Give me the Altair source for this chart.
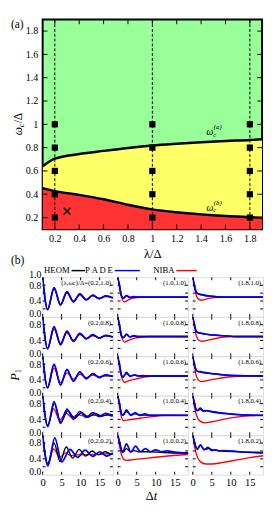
import altair as alt
import pandas as pd

SERIF = "Liberation Serif"

# ---------------- panel (a): phase diagram ----------------
lam_grid = [0.1, 0.2, 0.4, 0.6, 0.8, 1.0, 1.2, 1.4, 1.6, 1.8, 1.9]
wc_upper = [0.64, 0.705, 0.745, 0.772, 0.797, 0.818, 0.833, 0.846, 0.857, 0.866, 0.872]
wc_lower = [0.453, 0.427, 0.395, 0.357, 0.31, 0.27, 0.245, 0.227, 0.213, 0.203, 0.199]
ticks_a = [0.2, 0.4, 0.6, 0.8, 1.0, 1.2, 1.4, 1.6, 1.8]
sample_lam = [0.2, 1.0, 1.8]
sample_wc = [0.2, 0.4, 0.6, 0.8, 1.0]
cross_lam = [0.3]
cross_wc = [0.255]
bound_label_lam = [1.5, 1.5]
bound_label_wc = [0.935, 0.285]
bound_label_tag = ["(a)", "(b)"]

# ---------------- panel (b): dynamics ----------------
panel_lam = [0.2, 1.0, 1.8]
panel_wc = [1.0, 0.8, 0.6, 0.4, 0.2]
t_ticks = [0, 5, 10, 15]
p_ticks = [0.2, 0.4, 0.6, 0.8]
method_names = ["HEOM", "PADE", "NIBA"]
legend_texts = ["HEOM", "P\u2009A\u2009D\u2009E", "NIBA"]

# (t, P1) key points, lambda = 0.2
heom_02_10 = [(0,1.0),(1.3,0.18),(3.0,0.73),(4.7,0.30),(6.4,0.63),(8.1,0.38),(9.8,0.58),(11.5,0.43),(13.2,0.55),(14.9,0.46),(16.6,0.53),(18.5,0.48)]
pade_02_10 = [(0,1.0),(1.3,0.18),(3.0,0.74),(4.7,0.30),(6.4,0.64),(8.1,0.38),(9.8,0.58),(11.5,0.43),(13.2,0.55),(14.9,0.46),(16.6,0.53),(18.5,0.48)]
niba_02_10 = [(0,1.0),(1.3,0.19),(3.0,0.70),(4.7,0.32),(6.4,0.60),(8.1,0.40),(9.8,0.55),(11.5,0.44),(13.2,0.53),(14.9,0.47),(16.6,0.51),(18.5,0.49)]
heom_02_08 = [(0,1.0),(1.3,0.19),(3.0,0.74),(4.7,0.30),(6.4,0.63),(8.1,0.38),(9.8,0.58),(11.5,0.44),(13.2,0.55),(14.9,0.46),(16.6,0.53),(18.5,0.49)]
pade_02_08 = [(0,1.0),(1.3,0.19),(3.0,0.75),(4.7,0.29),(6.4,0.64),(8.1,0.38),(9.8,0.58),(11.5,0.44),(13.2,0.55),(14.9,0.46),(16.6,0.53),(18.5,0.49)]
niba_02_08 = [(0,1.0),(1.3,0.20),(3.0,0.68),(4.7,0.33),(6.4,0.59),(8.1,0.41),(9.8,0.55),(11.5,0.45),(13.2,0.52),(14.9,0.47),(16.6,0.51),(18.5,0.49)]
heom_02_06 = [(0,1.0),(1.3,0.20),(3.0,0.78),(4.7,0.28),(6.4,0.66),(8.1,0.37),(9.8,0.60),(11.5,0.43),(13.2,0.56),(14.9,0.46),(16.6,0.53),(18.5,0.49)]
pade_02_06 = [(0,1.0),(1.3,0.20),(3.0,0.80),(4.7,0.27),(6.4,0.67),(8.1,0.37),(9.8,0.60),(11.5,0.43),(13.2,0.56),(14.9,0.46),(16.6,0.53),(18.5,0.49)]
niba_02_06 = [(0,1.0),(1.3,0.21),(3.0,0.70),(4.7,0.33),(6.4,0.58),(8.1,0.42),(9.8,0.54),(11.5,0.46),(13.2,0.52),(14.9,0.48),(16.6,0.50),(18.5,0.50)]
heom_02_04 = [(0,1.0),(1.35,0.24),(3.05,0.80),(4.8,0.33),(6.6,0.62),(8.4,0.43),(10.2,0.57),(12.0,0.46),(13.8,0.55),(15.6,0.48),(17.4,0.53),(18.5,0.51)]
pade_02_04 = [(0,1.0),(1.35,0.22),(3.0,0.85),(4.7,0.30),(6.4,0.66),(8.1,0.40),(9.8,0.60),(11.5,0.45),(13.2,0.57),(14.9,0.47),(16.6,0.55),(18.3,0.49),(18.5,0.49)]
niba_02_04 = [(0,1.0),(1.3,0.25),(2.9,0.67),(4.5,0.38),(6.1,0.56),(7.7,0.45),(9.3,0.52),(11.0,0.48),(13.0,0.50),(18.5,0.50)]
heom_02_02 = [(0,1.0),(1.35,0.28),(3.0,0.80),(4.6,0.33),(6.2,0.70),(7.9,0.42),(9.6,0.64),(11.3,0.47),(13.0,0.60),(14.7,0.50),(16.4,0.58),(18.1,0.52),(18.5,0.53)]
pade_02_02 = [(0,1.0),(1.4,0.22),(3.2,0.93),(5.0,0.32),(7.2,0.64),(9.2,0.44),(11.2,0.62),(13.2,0.46),(15.0,0.58),(16.8,0.47),(18.5,0.55)]
niba_02_02 = [(0,1.0),(1.3,0.25),(2.9,0.65),(4.5,0.44),(6.0,0.55),(7.5,0.48),(9.0,0.50),(13.0,0.51),(18.5,0.53)]

# lambda = 1.0
heom_10_10 = [(0,1.0),(0.5,0.77),(1.0,0.53),(1.5,0.47),(2.3,0.53),(3.2,0.49),(4.2,0.505),(5.5,0.5),(18.5,0.5)]
pade_10_10 = [(0,1.0),(0.5,0.77),(1.0,0.53),(1.5,0.47),(2.3,0.54),(3.2,0.49),(4.2,0.51),(5.5,0.5),(18.5,0.5)]
niba_10_10 = [(0,1.0),(0.5,0.75),(1.0,0.50),(1.7,0.38),(2.5,0.41),(3.5,0.46),(5.0,0.49),(7.0,0.5),(18.5,0.5)]
heom_10_08 = [(0,1.0),(0.5,0.77),(1.0,0.52),(1.5,0.47),(2.3,0.55),(3.2,0.49),(4.2,0.51),(5.5,0.5),(18.5,0.5)]
pade_10_08 = [(0,1.0),(0.5,0.77),(1.0,0.52),(1.5,0.47),(2.3,0.56),(3.2,0.49),(4.2,0.52),(5.3,0.5),(18.5,0.5)]
niba_10_08 = [(0,1.0),(0.5,0.75),(1.0,0.49),(1.8,0.36),(3.0,0.41),(4.5,0.46),(6.0,0.48),(8.0,0.5),(18.5,0.5)]
heom_10_06 = [(0,1.0),(0.5,0.77),(1.0,0.52),(1.4,0.48),(2.3,0.56),(3.3,0.5),(4.4,0.52),(5.5,0.5),(18.5,0.5)]
pade_10_06 = [(0,1.0),(0.5,0.77),(1.0,0.52),(1.4,0.47),(2.3,0.59),(3.3,0.49),(4.4,0.53),(5.5,0.5),(6.6,0.51),(8.0,0.5),(18.5,0.5)]
niba_10_06 = [(0,1.0),(0.5,0.74),(1.0,0.48),(1.8,0.34),(3.0,0.38),(5.0,0.43),(7.0,0.47),(10.0,0.5),(18.5,0.5)]
heom_10_04 = [(0,1.0),(0.5,0.78),(1.0,0.54),(1.4,0.52),(2.3,0.60),(3.4,0.52),(4.6,0.54),(6.0,0.51),(18.5,0.5)]
pade_10_04 = [(0,1.0),(0.5,0.78),(1.0,0.54),(1.4,0.5),(2.3,0.64),(3.4,0.5),(4.6,0.57),(5.8,0.5),(7.2,0.54),(8.5,0.5),(18.5,0.5)]
niba_10_04 = [(0,1.0),(0.5,0.72),(1.0,0.45),(1.5,0.37),(3.0,0.39),(6.0,0.43),(9.0,0.47),(12.0,0.5),(18.5,0.5)]
heom_10_02 = [(0,1.0),(0.5,0.82),(1.0,0.62),(1.4,0.57),(2.3,0.66),(3.3,0.58),(4.3,0.61),(5.5,0.58),(8.0,0.58),(12.0,0.56),(18.5,0.54)]
pade_10_02 = [(0,1.0),(0.5,0.82),(1.0,0.62),(1.3,0.57),(2.3,0.78),(3.5,0.57),(4.7,0.72),(6.0,0.58),(7.3,0.66),(8.6,0.58),(10.0,0.63),(11.5,0.58),(13.0,0.60),(15.0,0.57),(18.5,0.55)]
niba_10_02 = [(0,1.0),(0.5,0.72),(1.0,0.50),(1.6,0.39),(2.3,0.36),(4.0,0.38),(8.0,0.42),(12.0,0.46),(18.5,0.51)]

# lambda = 1.8
heom_18_10 = [(0,1.0),(0.4,0.80),(0.8,0.65),(1.2,0.59),(2.0,0.56),(3.0,0.54),(5.0,0.52),(8.0,0.5),(18.5,0.5)]
pade_18_10 = [(0,1.0),(0.4,0.80),(0.8,0.66),(1.2,0.60),(2.0,0.57),(3.0,0.55),(5.0,0.52),(8.0,0.5),(18.5,0.5)]
niba_18_10 = [(0,1.0),(0.5,0.72),(1.0,0.52),(1.6,0.44),(2.3,0.42),(3.5,0.45),(5.0,0.48),(7.0,0.5),(18.5,0.5)]
heom_18_08 = [(0,1.0),(0.4,0.80),(0.8,0.66),(1.2,0.61),(2.0,0.58),(3.0,0.56),(5.0,0.54),(8.0,0.52),(12.0,0.5),(18.5,0.5)]
pade_18_08 = [(0,1.0),(0.4,0.80),(0.8,0.66),(1.2,0.61),(2.0,0.59),(3.0,0.57),(5.0,0.54),(8.0,0.52),(12.0,0.5),(18.5,0.5)]
niba_18_08 = [(0,1.0),(0.5,0.72),(1.0,0.50),(1.7,0.40),(2.5,0.38),(4.0,0.41),(6.0,0.45),(9.0,0.49),(12.0,0.5),(18.5,0.5)]
heom_18_06 = [(0,1.0),(0.4,0.80),(0.8,0.67),(1.2,0.62),(2.0,0.60),(3.0,0.58),(5.0,0.56),(8.0,0.53),(12.0,0.51),(18.5,0.5)]
pade_18_06 = [(0,1.0),(0.4,0.80),(0.8,0.67),(1.2,0.62),(2.0,0.61),(3.0,0.59),(5.0,0.56),(8.0,0.53),(12.0,0.51),(18.5,0.5)]
niba_18_06 = [(0,1.0),(0.5,0.70),(1.0,0.48),(1.7,0.38),(2.5,0.36),(4.0,0.39),(7.0,0.44),(10.0,0.48),(14.0,0.5),(18.5,0.5)]
heom_18_04 = [(0,1.0),(0.4,0.82),(0.8,0.67),(1.2,0.63),(2.0,0.69),(2.8,0.62),(3.8,0.62),(5.0,0.60),(8.0,0.56),(12.0,0.52),(18.5,0.5)]
pade_18_04 = [(0,1.0),(0.4,0.82),(0.8,0.67),(1.2,0.62),(2.0,0.66),(2.8,0.61),(3.6,0.62),(5.0,0.59),(8.0,0.55),(12.0,0.52),(18.5,0.5)]
niba_18_04 = [(0,1.0),(0.5,0.70),(1.0,0.50),(2.0,0.35),(3.2,0.31),(5.0,0.34),(8.0,0.40),(11.0,0.45),(15.0,0.49),(18.5,0.5)]
heom_18_02 = [(0,1.0),(0.4,0.84),(0.8,0.70),(1.2,0.65),(2.0,0.76),(3.0,0.64),(4.2,0.66),(5.5,0.62),(8.0,0.60),(12.0,0.58),(18.5,0.56)]
pade_18_02 = [(0,1.0),(0.4,0.84),(0.8,0.70),(1.2,0.64),(2.0,0.75),(3.0,0.63),(4.0,0.69),(5.0,0.61),(6.0,0.63),(7.0,0.60),(8.0,0.61),(12.0,0.58),(18.5,0.55)]
niba_18_02 = [(0,1.0),(0.5,0.70),(1.0,0.50),(2.0,0.33),(3.5,0.27),(5.0,0.27),(8.0,0.31),(12.0,0.38),(15.0,0.43),(18.5,0.48)]

CURVES = {
    (0, 0): (heom_02_10, pade_02_10, niba_02_10), (0, 1): (heom_10_10, pade_10_10, niba_10_10), (0, 2): (heom_18_10, pade_18_10, niba_18_10),
    (1, 0): (heom_02_08, pade_02_08, niba_02_08), (1, 1): (heom_10_08, pade_10_08, niba_10_08), (1, 2): (heom_18_08, pade_18_08, niba_18_08),
    (2, 0): (heom_02_06, pade_02_06, niba_02_06), (2, 1): (heom_10_06, pade_10_06, niba_10_06), (2, 2): (heom_18_06, pade_18_06, niba_18_06),
    (3, 0): (heom_02_04, pade_02_04, niba_02_04), (3, 1): (heom_10_04, pade_10_04, niba_10_04), (3, 2): (heom_18_04, pade_18_04, niba_18_04),
    (4, 0): (heom_02_02, pade_02_02, niba_02_02), (4, 1): (heom_10_02, pade_10_02, niba_10_02), (4, 2): (heom_18_02, pade_18_02, niba_18_02),
}

METHOD_COLOR = {"HEOM": "#000000", "PADE": "#0000ff", "NIBA": "#ff0000"}
METHOD_WIDTH = {"HEOM": 1.4, "PADE": 1.8, "NIBA": 1.4}


def txt(s, x, y, size, **kw):
    return alt.Chart(pd.DataFrame({"s": [s]})).mark_text(
        font=SERIF, fontSize=size, color="black", **kw
    ).encode(text="s:N", x=x, y=y)


# ================= top chart =================
W1, H1 = 228, 218
xs = alt.Scale(domain=[0.1, 1.9], nice=False, zero=False)
ys = alt.Scale(domain=[0.1, 1.9], nice=False, zero=False)
lbl = "datum.value == 1 ? '1' : format(datum.value, '.1f')"
ax_x = alt.Axis(values=ticks_a, labelExpr=lbl, ticks=False, domain=False, grid=False,
                labelFont=SERIF, labelFontSize=10.5, labelColor="black", labelPadding=5,
                labelFlush=False, labelOverlap=False, title="λ/Δ", titleFont=SERIF,
                titleFontSize=13, titleFontWeight="normal", titleColor="black", titlePadding=4)
ax_y = alt.Axis(values=ticks_a, labelExpr=lbl, ticks=False, domain=False, grid=False,
                labelFont=SERIF, labelFontSize=10.5, labelColor="black", labelPadding=5,
                labelOverlap=False, title=None)


def XA(f):
    return alt.X(f + ":Q", scale=xs, axis=ax_x)


def YA(f):
    return alt.Y(f + ":Q", scale=ys, axis=ax_y)


bdf = pd.DataFrame({"lam": lam_grid, "a": wc_upper, "b": wc_lower})
base = alt.Chart(bdf)
yellow = base.mark_area(color="#ffff66", interpolate="monotone", clip=True, opacity=1).encode(x=XA("lam"), y=YA("a"), y2="b:Q")
red = base.mark_area(color="#ff3333", interpolate="monotone", clip=True, opacity=1).encode(x=XA("lam"), y=YA("b"), y2=alt.value(H1))
line_a = base.mark_line(color="black", strokeWidth=2.5, interpolate="monotone", clip=True).encode(x=XA("lam"), y=YA("a"))
line_b = base.mark_line(color="black", strokeWidth=2.5, interpolate="monotone", clip=True).encode(x=XA("lam"), y=YA("b"))

dashed = alt.Chart(pd.DataFrame({"lam": sample_lam})).mark_rule(
    color="black", strokeWidth=1, strokeDash=[3, 2]).encode(x=XA("lam"))
pts = pd.DataFrame([(l, w) for l in sample_lam for w in sample_wc], columns=["lam", "wc"])
squares = alt.Chart(pts).mark_square(color="black", size=42, opacity=1).encode(x=XA("lam"), y=YA("wc"))
cross = alt.Chart(pd.DataFrame({"lam": cross_lam, "wc": cross_wc})).mark_point(
    shape="M-1,-1L1,1M-1,1L1,-1", filled=False, color="black", strokeWidth=1.4, size=49, opacity=1
).encode(x=XA("lam"), y=YA("wc"))

tdfa = pd.DataFrame({"v": ticks_a})
tick_b = alt.Chart(tdfa).mark_rule(color="black", strokeWidth=1).encode(x=XA("v"), y=alt.value(H1), y2=alt.value(H1 - 5))
tick_t = alt.Chart(tdfa).mark_rule(color="black", strokeWidth=1).encode(x=XA("v"), y=alt.value(0), y2=alt.value(5))
tick_l = alt.Chart(tdfa).mark_rule(color="black", strokeWidth=1).encode(y=YA("v"), x=alt.value(0), x2=alt.value(5))
tick_r = alt.Chart(tdfa).mark_rule(color="black", strokeWidth=1).encode(y=YA("v"), x=alt.value(W1), x2=alt.value(W1 - 5))

ldf = pd.DataFrame({"lam": bound_label_lam, "wc": bound_label_wc, "tag": bound_label_tag,
                    "om": ["ω", "ω"], "c": ["c", "c"]})
lab_om = alt.Chart(ldf).mark_text(font=SERIF, fontSize=10, fontStyle="italic", align="right", color="black", fill="black").encode(
    x=XA("lam"), y=YA("wc"), text="om:N")
lab_c = alt.Chart(ldf).mark_text(font=SERIF, fontSize=7, fontStyle="italic", align="left", dy=3, color="black", fill="black").encode(
    x=XA("lam"), y=YA("wc"), text="c:N")
lab_tag = alt.Chart(ldf).mark_text(font=SERIF, fontSize=7, fontStyle="italic", align="left", dy=-5, dx=0.5, color="black", fill="black").encode(
    x=XA("lam"), y=YA("wc"), text="tag:N")

a_tag = txt("(a)", alt.value(-33), alt.value(5), 12, align="left")
yt_om = txt("ω", alt.value(-25), alt.value(H1 / 2), 12, align="right", angle=270, dx=-3, fontStyle="italic")
yt_c = txt("c", alt.value(-25), alt.value(H1 / 2), 8, align="left", angle=270, dx=-3, dy=3.5, fontStyle="italic")
yt_d = txt("/Δ", alt.value(-25), alt.value(H1 / 2), 12, align="left", angle=270, dx=1)

b_tag = txt("(b)", alt.value(-33), alt.value(H1 + 32), 12, align="left")
legend_layers = []
for name, label, tx, x0, x1 in zip(method_names, legend_texts, [28, 73, 137], [30, 75, 139], [44, 101, 160]):
    legend_layers.append(txt(label, alt.value(tx), alt.value(H1 + 43), 9, align="right"))
    legend_layers.append(
        alt.Chart(pd.DataFrame({"s": [name]})).mark_rule(color=METHOD_COLOR[name], strokeWidth=1.5).encode(
            x=alt.value(x0), x2=alt.value(x1), y=alt.value(H1 + 43)))

top = alt.layer(
    yellow, red, line_a, line_b, dashed, squares, cross,
    tick_b, tick_t, tick_l, tick_r, lab_om, lab_c, lab_tag,
    a_tag, yt_om, yt_c, yt_d, b_tag, *legend_layers
).properties(width=W1, height=H1,
             view=alt.ViewBackground(fill="#99ff99", stroke="black", strokeWidth=2))

# ================= grid of dynamics panels =================
PW, PH = 73, 41
ts = alt.Scale(domain=[0, 18.5], nice=False, zero=False)
ps = alt.Scale(domain=[0, 1], nice=False, zero=False)
edge_baseline = {"condition": {"test": "datum.value == 0 || datum.value == 1", "value": "alphabetic"},
                 "value": "middle"}


def make_panel(r, c):
    lam, wc = panel_lam[c], panel_wc[r]
    if r == 4:
        xa = alt.Axis(values=t_ticks, format="d", ticks=False, domain=False, grid=False,
                      labelFont=SERIF, labelFontSize=11, labelColor="black", labelPadding=2,
                      labelFlush=False, labelOverlap=False, title=None)
    else:
        xa = None
    if c == 0:
        vals = [0, 0.4, 0.8] + ([1.0] if r == 0 else [])
        ya = alt.Axis(values=vals, format=".1f", ticks=False, domain=False, grid=False,
                      labelFont=SERIF, labelFontSize=10, labelColor="black", labelPadding=2,
                      labelBaseline=edge_baseline, labelOverlap=False, title=None)
    else:
        ya = None

    def XT(f):
        return alt.X(f + ":Q", scale=ts, axis=xa)

    def YP(f):
        return alt.Y(f + ":Q", scale=ps, axis=ya)

    heom, pade, niba = CURVES[(r, c)]
    layers = []
    for name, pts_ in (("NIBA", niba), ("HEOM", heom), ("PADE", pade)):
        df = pd.DataFrame(pts_, columns=["t", "p"])
        layers.append(alt.Chart(df).mark_line(color=METHOD_COLOR[name], strokeWidth=METHOD_WIDTH[name],
                                              interpolate="monotone", clip=True).encode(x=XT("t"), y=YP("p")))
    tx = pd.DataFrame({"v": t_ticks})
    ty = pd.DataFrame({"v": p_ticks})
    layers += [
        alt.Chart(tx).mark_rule(color="black", strokeWidth=1).encode(x=XT("v"), y=alt.value(PH), y2=alt.value(PH - 3)),
        alt.Chart(tx).mark_rule(color="black", strokeWidth=1).encode(x=XT("v"), y=alt.value(0), y2=alt.value(3)),
        alt.Chart(ty).mark_rule(color="black", strokeWidth=1).encode(y=YP("v"), x=alt.value(0), x2=alt.value(3)),
        alt.Chart(ty).mark_rule(color="black", strokeWidth=1).encode(y=YP("v"), x=alt.value(PW), x2=alt.value(PW - 3)),
    ]
    label = f"({lam:.1f},{wc:.1f})"
    if r == 0 and c == 0:
        label = "(λ,ωc)/Δ=" + label
    layers.append(txt(label, alt.value(PW - 2), alt.value(6), 7, align="right"))
    if r == 2 and c == 0:
        layers.append(txt("P", alt.value(-29), alt.value(PH / 2), 13, align="center", angle=270, dx=-1, fontStyle="italic"))
        layers.append(txt("1", alt.value(-29), alt.value(PH / 2), 8, align="left", angle=270, dx=3, dy=4))
    if r == 4 and c == 1:
        layers.append(txt("Δ", alt.value(PW / 2 + 1), alt.value(PH + 22), 13, align="right"))
        layers.append(txt("t", alt.value(PW / 2 + 1), alt.value(PH + 22), 13, align="left", fontStyle="italic"))
    return alt.layer(*layers).properties(width=PW, height=PH)


panels = [make_panel(r, c) for r in range(5) for c in range(3)]
grid = alt.concat(*panels, columns=3, spacing={"row": 0, "column": 5}, bounds="flush")

chart = alt.vconcat(top, grid, spacing=50, bounds="flush").properties(padding=0).configure_view(
    stroke="black", strokeWidth=1.7
).configure(font=SERIF)

chart.save("out.html", embed_options={"renderer": "svg", "actions": False})
